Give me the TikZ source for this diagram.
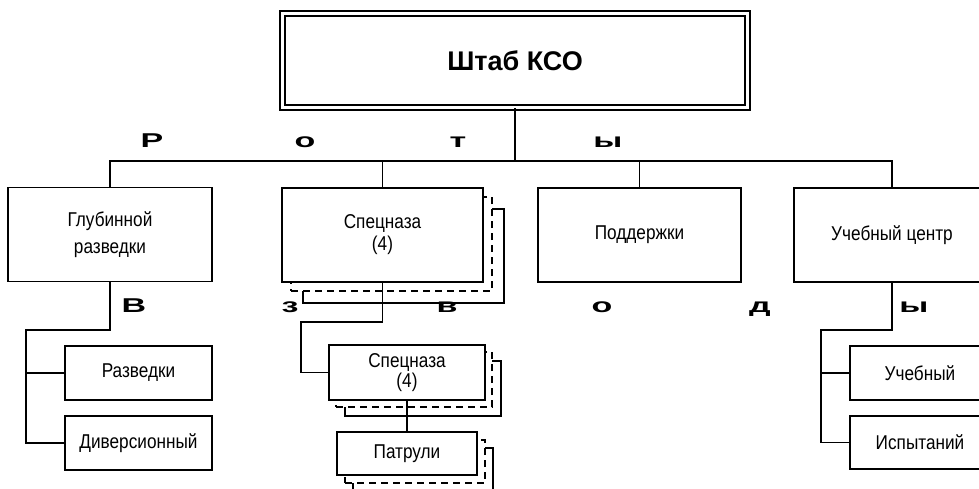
\documentclass[tikz,border=0pt]{standalone}
\usepackage{fontspec}
\setmainfont{Liberation Sans}
\newfontfamily\boxfont[FakeStretch=0.86]{Liberation Sans}
\newfontfamily\widefont[FakeStretch=1.7]{Liberation Sans Bold}
\usetikzlibrary{shadows,calc}

\begin{document}
\begin{tikzpicture}[x=1pt, y=-1pt, line width=1.8pt,
    unit/.style={draw, fill=white, inner sep=0pt, align=center,
      font=\boxfont\fontsize{20}{22}\selectfont},
    big/.style={unit, minimum width=203pt, minimum height=94pt},
    small/.style={unit, minimum width=147pt, minimum height=54pt},
    hqbox/.style={draw, fill=white, double, double distance=3.5pt, line width=1.6pt,
      minimum width=465pt, minimum height=94pt,
      font=\bfseries\fontsize{27}{32}\selectfont},
    pile/.style args={#1 and #2}{
      general shadow={shadow xshift=#2pt, shadow yshift=-#2pt, draw, fill=white, solid},
      general shadow={shadow xshift=#1pt, shadow yshift=-#1pt, draw, fill=white,
        dash pattern=on 7pt off 5pt}},
    letter/.style={anchor=base, inner sep=0pt, font=\widefont\fontsize{20}{24}\selectfont}]
  \useasboundingbox (0,0) rectangle (979,489);
  \clip (0,0) rectangle (979,489);

  % headquarters
  \node[hqbox] (hq) at (515,60.5) {Штаб КСО};

  % companies
  \node[big, minimum width=204pt, font=\boxfont\fontsize{20}{27}\selectfont] (gr) at (110,234.5) {Глубинной\\разведки};
  \node[big, minimum width=201pt, pile=9 and 21] (sp) at (382.5,235) {Спецназа\\(4)};
  \node[big] (pd) at (639.5,235) {Поддержки};
  \node[big, minimum width=196pt] (uc) at (892,235) {Учебный центр};

  % platoons
  \node[small] (rz) at (138.5,373) {Разведки};
  \node[small] (dv) at (138.5,443) {Диверсионный};
  \node[small, minimum width=156pt, minimum height=55pt, font=\boxfont\fontsize{20}{20}\selectfont,
    pile=7 and 16] (sp2) at (407,372.5) {Спецназа\\(4)};
  \node[small, minimum width=140pt, minimum height=43pt, pile=8 and 16] (pt) at (407,453.5) {Патрули};
  \node[small, minimum width=140pt] (ub) at (920,373) {Учебный};
  \node[small, minimum width=140pt, minimum height=53pt] (is) at (920,442.5) {Испытаний};

  % spaced headings
  \node[letter] (r1) at (152,148) {Р};
  \node[letter] (r2) at (305,148) {о};
  \node[letter] (r3) at (458,148) {т};
  \node[letter] (r4) at (608,148) {ы};
  \node[letter] (v1) at (134,312) {В};
  \node[letter] (v2) at (290,312) {з};
  \node[letter] (v3) at (447,312) {в};
  \node[letter] (v4) at (602,312) {о};
  \node[letter] (v5) at (760,312) {д};
  \node[letter] (v6) at (914,312) {ы};

  % bus lines
  \coordinate (bus) at (515,161);
  \coordinate (grturn) at (26,330);
  \coordinate (spturn) at (301,322);
  \coordinate (ucturn) at (821,330);

  \draw (hq.south) -- (bus);
  \draw (gr.north) |- (bus) -| (uc.north);
  \draw (sp.north) -- (sp.north |- bus);
  \draw (pd.north) -- (pd.north |- bus);

  \draw (gr.south) |- (grturn) |- (dv.west);
  \draw (grturn |- rz.west) -- (rz.west);
  \draw (sp.south) |- (spturn) |- (sp2.west);
  \draw (sp2.south) -- (pt.north);
  \draw (uc.south) |- (ucturn) |- (is.west);
  \draw (ucturn |- ub.west) -- (ub.west);
\end{tikzpicture}
\end{document}
